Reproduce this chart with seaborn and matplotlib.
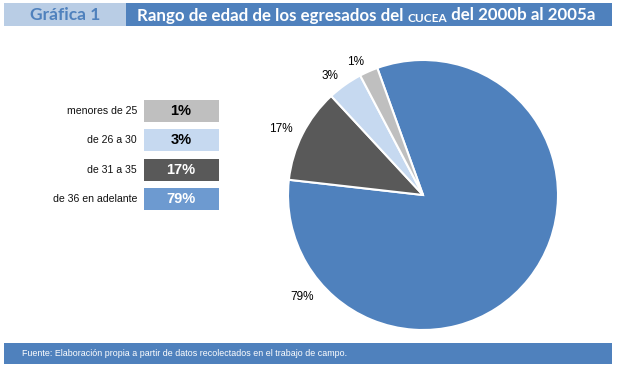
import numpy as np
import matplotlib.pyplot as plt
import matplotlib.patches as mpatches
import seaborn as sns

# data
categorias = ["de 36 en adelante", "de 31 a 35", "de 26 a 30", "menores de 25"]
etiquetas = ["79%", "17%", "3%", "1%"]
# slice sizes as drawn in the picture (angles)
tamanos = [82.3, 11.3, 4.2, 2.2]
colores = ["#4F81BD", "#595959", "#C6D9F0", "#BFBFBF"]
leyenda_orden = ["menores de 25", "de 26 a 30", "de 31 a 35", "de 36 en adelante"]
leyenda_valores = ["1%", "3%", "17%", "79%"]
leyenda_colores = ["#BFBFBF", "#C6D9F0", "#595959", "#6D9AD0"]
leyenda_texto = ["black", "black", "white", "white"]

sns.set_theme(style="white")
plt.rcParams['font.family'] = ['Liberation Sans Narrow', 'Liberation Sans', 'DejaVu Sans']

W, H = 617, 366
fig = plt.figure(figsize=(W / 100, H / 100), dpi=100)
fig.patch.set_facecolor("white")

# background axes in pixel coordinates
bg = fig.add_axes([0, 0, 1, 1])
bg.set_xlim(0, W)
bg.set_ylim(H, 0)
bg.axis("off")

# header
fuente_titulo = ["Lato", "DejaVu Sans"]
bg.add_patch(mpatches.Rectangle((4, 3), 122, 23, color="#B9CDE5", lw=0))
bg.add_patch(mpatches.Rectangle((126, 3), 486, 23, color="#4F81BD", lw=0))
bg.text(65, 15, "Gráfica 1", ha="center", va="center", color="#4F81BD",
        fontsize=12.5, fontweight="bold", family=fuente_titulo)
t1 = bg.text(137, 15.5, "Rango de edad de los egresados del ", ha="left", va="center",
             color="white", fontsize=12.2, fontweight="bold", family=fuente_titulo)
t2 = bg.annotate("CUCEA", xy=(1, 0), xycoords=t1, ha="left", va="bottom",
                 color="white", fontsize=8.5, fontweight="bold", family=fuente_titulo)
bg.annotate(" del 2000b al 2005a", xy=(1, 0), xycoords=t2, ha="left", va="bottom",
            color="white", fontsize=12.2, fontweight="bold", family=fuente_titulo)

# footer
bg.add_patch(mpatches.Rectangle((4, 343), 608, 21, color="#4F81BD", lw=0))
bg.text(22, 354, "Fuente: Elaboración propia a partir de datos recolectados en el trabajo de campo.",
        ha="left", va="center", color="white", fontsize=6.4)

# legend table
filas_y = [111, 140, 170, 199]
for y, cat, val, col, tc in zip(filas_y, leyenda_orden, leyenda_valores,
                                leyenda_colores, leyenda_texto):
    bg.add_patch(mpatches.Rectangle((144, y - 11), 75, 22, color=col, lw=0))
    bg.text(137, y, cat, ha="right", va="center", fontsize=7.6, color="#111111",
            fontweight="medium")
    bg.text(181, y, val, ha="center", va="center", fontsize=10.5,
            fontweight="bold", color=tc)

# pie
cx, cy, r = 423, 195, 135
ax = fig.add_axes([(cx - r) / W, (H - cy - r) / H, 2 * r / W, 2 * r / H])
wedges, textos = ax.pie(tamanos, colors=colores, labels=etiquetas, startangle=109.8,
                        counterclock=False, labeldistance=1.08,
                        wedgeprops=dict(edgecolor="white", linewidth=1.5),
                        textprops=dict(fontsize=8.5, color="black"))
ax.set_xlim(-1, 1)
ax.set_ylim(-1, 1)
ax.set_aspect("equal")
ax.axis("off")

# the 79% label sits on the lower left in the original
ang = np.deg2rad(220)
textos[0].set_position((1.17 * np.cos(ang), 1.17 * np.sin(ang)))
textos[0].set_ha("center")

fig.savefig("out.png", dpi=100, facecolor="white")
